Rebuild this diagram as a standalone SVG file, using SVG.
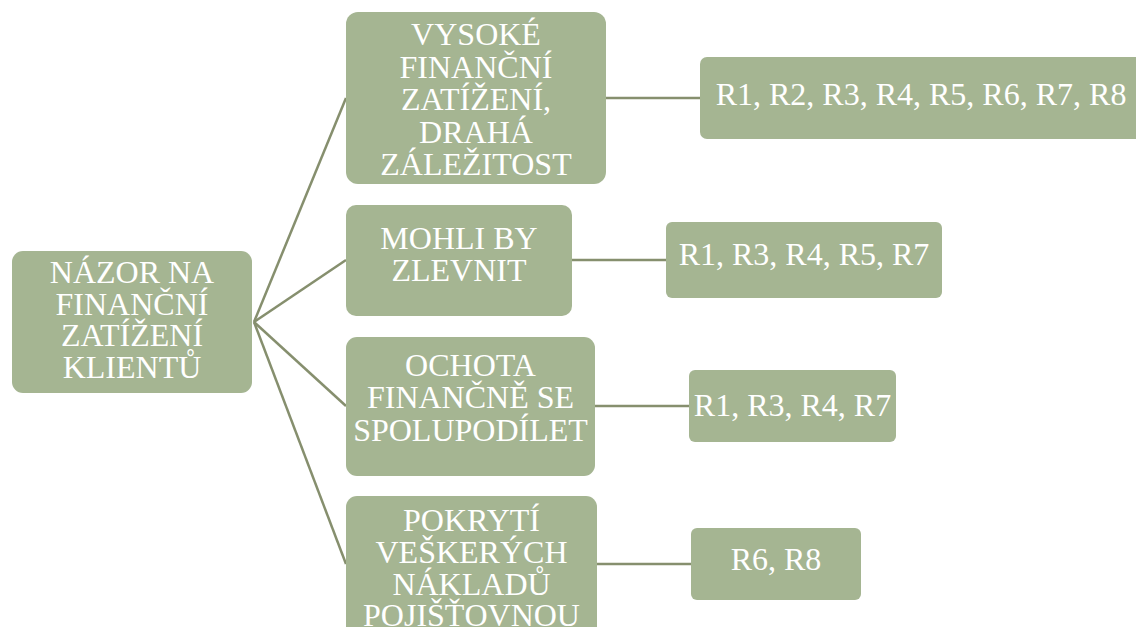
<svg xmlns="http://www.w3.org/2000/svg" width="1136" height="627" viewBox="0 0 1136 627">
  <style>
    .box { fill: #A5B592; }
    .lbl { font-family: "Liberation Serif", "Times New Roman", serif; font-size: 32px; fill: #FFFFFF; text-anchor: middle; }
    .link { stroke: #868F6E; stroke-width: 2.5; fill: none; }
  </style>
  <rect width="1136" height="627" fill="#FFFFFF"/>

  <!-- connectors -->
  <g id="connectors">
    <line class="link" x1="254" y1="322" x2="346" y2="98"/>
    <line class="link" x1="254" y1="322" x2="346" y2="260"/>
    <line class="link" x1="254" y1="322" x2="346" y2="406"/>
    <line class="link" x1="254" y1="322" x2="346" y2="564"/>
    <line class="link" x1="606" y1="98" x2="700" y2="98"/>
    <line class="link" x1="572" y1="260" x2="666" y2="260"/>
    <line class="link" x1="595" y1="406" x2="689" y2="406"/>
    <line class="link" x1="597" y1="564" x2="691" y2="564"/>
  </g>

  <!-- root -->
  <g id="root">
    <rect class="box" x="12" y="251" width="240" height="142" rx="11"/>
    <text class="lbl" x="132" y="283">NÁZOR NA</text>
    <text class="lbl" x="132" y="314.5">FINANČNÍ</text>
    <text class="lbl" x="132" y="346">ZATÍŽENÍ</text>
    <text class="lbl" x="132" y="377.5">KLIENTŮ</text>
  </g>

  <!-- topics -->
  <g id="topic-cost">
    <rect class="box" x="346" y="12" width="260" height="172" rx="12"/>
    <text class="lbl" x="476" y="45">VYSOKÉ</text>
    <text class="lbl" x="476" y="77.5">FINANČNÍ</text>
    <text class="lbl" x="476" y="110">ZATÍŽENÍ,</text>
    <text class="lbl" x="476" y="142.5">DRAHÁ</text>
    <text class="lbl" x="476" y="175">ZÁLEŽITOST</text>
  </g>
  <g id="topic-cheaper">
    <rect class="box" x="346" y="205" width="226" height="111" rx="10"/>
    <text class="lbl" x="459" y="249">MOHLI BY</text>
    <text class="lbl" x="459" y="281">ZLEVNIT</text>
  </g>
  <g id="topic-share">
    <rect class="box" x="346" y="337" width="249" height="139" rx="11"/>
    <text class="lbl" x="470.5" y="376">OCHOTA</text>
    <text class="lbl" x="470.5" y="408">FINANČNĚ SE</text>
    <text class="lbl" x="470.5" y="441">SPOLUPODÍLET</text>
  </g>
  <g id="topic-insurer">
    <rect class="box" x="346" y="496" width="251" height="150" rx="11"/>
    <text class="lbl" x="471.5" y="531">POKRYTÍ</text>
    <text class="lbl" x="471.5" y="563">VEŠKERÝCH</text>
    <text class="lbl" x="471.5" y="594.5">NÁKLADŮ</text>
    <text class="lbl" x="471.5" y="626">POJIŠŤOVNOU</text>
  </g>

  <!-- respondents -->
  <g id="resp-cost">
    <rect class="box" x="700" y="57" width="446" height="82" rx="7"/>
    <text class="lbl" x="921" y="105">R1, R2, R3, R4, R5, R6, R7, R8</text>
  </g>
  <g id="resp-cheaper">
    <rect class="box" x="666" y="222" width="276" height="76" rx="6"/>
    <text class="lbl" x="804" y="265">R1, R3, R4, R5, R7</text>
  </g>
  <g id="resp-share">
    <rect class="box" x="689" y="370" width="207" height="72" rx="6"/>
    <text class="lbl" x="792.5" y="416">R1, R3, R4, R7</text>
  </g>
  <g id="resp-insurer">
    <rect class="box" x="691" y="528" width="170" height="72" rx="6"/>
    <text class="lbl" x="776" y="570">R6, R8</text>
  </g>
</svg>
